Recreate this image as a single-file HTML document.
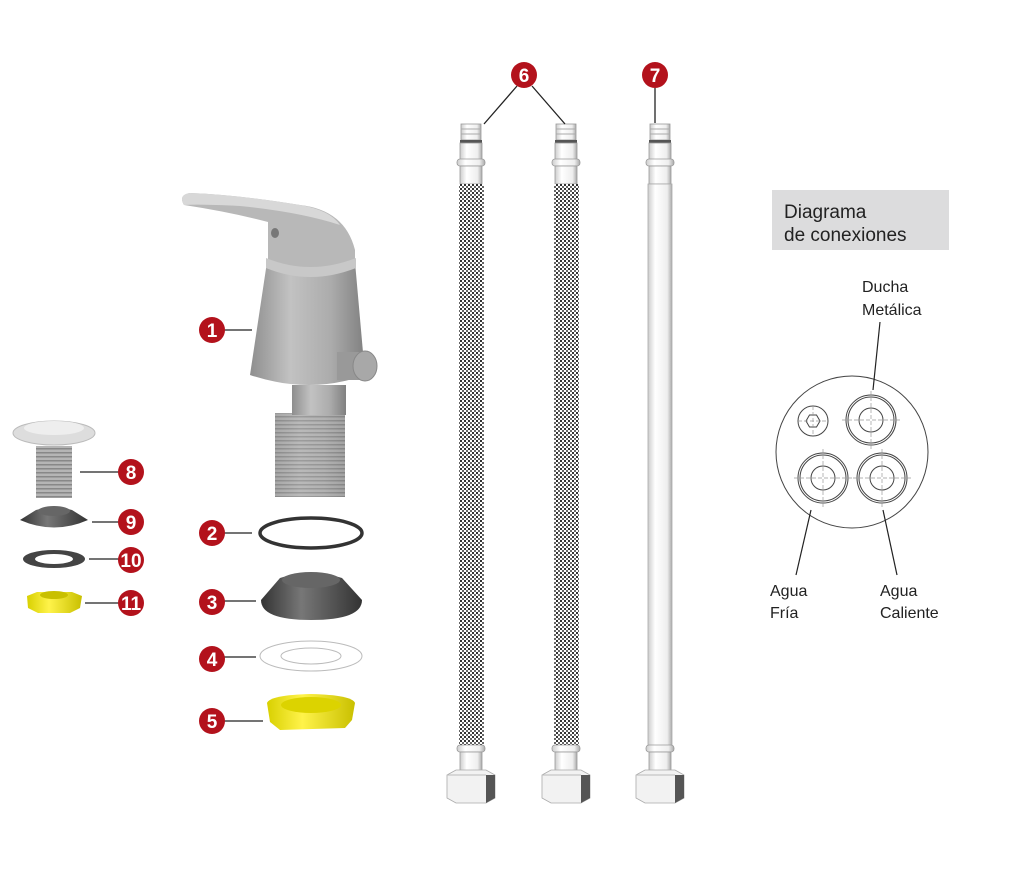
<!DOCTYPE html>
<html><head><meta charset="utf-8"><style>
html,body{margin:0;padding:0;background:#fff;}
svg{display:block;}
text{font-family:"Liberation Sans",sans-serif;}
.b{fill:#fff;font-weight:bold;font-size:19px;text-anchor:middle;}
</style></head><body>
<svg width="1024" height="877" viewBox="0 0 1024 877" xmlns="http://www.w3.org/2000/svg">
<defs>
<pattern id="br" width="4" height="4" patternUnits="userSpaceOnUse">
<rect width="4" height="4" fill="#fff"/><rect width="2" height="2" fill="#333"/><rect x="2" y="2" width="2" height="2" fill="#666"/>
</pattern>
<linearGradient id="cyl" x1="0" x2="1"><stop offset="0" stop-color="#ccc"/><stop offset=".3" stop-color="#fff"/><stop offset=".8" stop-color="#eee"/><stop offset="1" stop-color="#aaa"/></linearGradient>
<linearGradient id="met" x1="0" x2="1"><stop offset="0" stop-color="#8e8e8e"/><stop offset=".35" stop-color="#c2c2c2"/><stop offset=".7" stop-color="#acacac"/><stop offset="1" stop-color="#808080"/></linearGradient>
<linearGradient id="yel" x1="0" x2="1"><stop offset="0" stop-color="#d8d000"/><stop offset=".4" stop-color="#fff34a"/><stop offset="1" stop-color="#c9c000"/></linearGradient>
<linearGradient id="drk" x1="0" x2="1"><stop offset="0" stop-color="#333"/><stop offset=".4" stop-color="#777"/><stop offset="1" stop-color="#333"/></linearGradient>
<pattern id="thr" width="4" height="4" patternUnits="userSpaceOnUse"><rect width="4" height="4" fill="#b5b5b5"/><rect width="4" height="1.5" fill="#888"/></pattern>
<g id="htop">
<rect x="-10" y="0" width="20" height="16" fill="url(#cyl)" stroke="#999" stroke-width=".8"/>
<line x1="-10" y1="5" x2="10" y2="5" stroke="#aaa"/><line x1="-10" y1="10" x2="10" y2="10" stroke="#aaa"/>
<rect x="-11" y="16" width="22" height="3" fill="#555"/>
<rect x="-11" y="19" width="22" height="17" fill="url(#cyl)" stroke="#999" stroke-width=".8"/>
<rect x="-14" y="35" width="28" height="7" rx="3" fill="url(#cyl)" stroke="#999" stroke-width=".8"/>
<rect x="-11" y="42" width="22" height="18" fill="url(#cyl)" stroke="#999" stroke-width=".8"/>
</g>
<g id="hbot">
<rect x="-14" y="0" width="28" height="7" rx="3" fill="url(#cyl)" stroke="#999" stroke-width=".8"/>
<rect x="-11" y="7" width="22" height="20" fill="url(#cyl)" stroke="#999" stroke-width=".8"/>
<path d="M-24 30 L-15 25 L15 25 L24 30 L24 53 L15 58 L-15 58 L-24 53 Z" fill="#f2f2f2" stroke="#aaa" stroke-width=".8"/>
<path d="M15 30 L24 30 L24 53 L15 58 Z" fill="#555"/>
<line x1="-24" y1="30" x2="15" y2="30" stroke="#bbb"/>
</g>
</defs>

<!-- hoses -->
<g transform="translate(471,124)"><use href="#htop"/></g>
<rect x="459" y="184" width="25" height="562" fill="url(#br)"/>
<g transform="translate(471,745)"><use href="#hbot"/></g>

<g transform="translate(566,124)"><use href="#htop"/></g>
<rect x="554" y="184" width="25" height="562" fill="url(#br)"/>
<g transform="translate(566,745)"><use href="#hbot"/></g>

<g transform="translate(660,124)"><use href="#htop"/></g>
<rect x="648" y="184" width="24" height="562" fill="url(#cyl)" stroke="#aaa" stroke-width=".8"/>
<g transform="translate(660,745)"><use href="#hbot"/></g>

<line x1="517" y1="86" x2="484" y2="124" stroke="#222" stroke-width="1.3"/>
<line x1="532" y1="86" x2="565" y2="124" stroke="#222" stroke-width="1.3"/>
<line x1="655" y1="88" x2="655" y2="123" stroke="#222" stroke-width="1.3"/>
<circle cx="524" cy="75" r="13" fill="#b3121c"/><text class="b" x="524" y="82">6</text>
<circle cx="655" cy="75" r="13" fill="#b3121c"/><text class="b" x="655" y="82">7</text>

<!-- faucet -->
<rect x="275" y="413" width="70" height="84" fill="url(#thr)"/>
<rect x="275" y="413" width="70" height="84" fill="url(#met)" opacity=".35"/>
<rect x="292" y="385" width="54" height="30" fill="url(#met)"/>
<path d="M267 262 L355 262 L365 375 Q310 395 250 375 Z" fill="url(#met)"/>
<path d="M268 262 Q310 282 355 262 L355 250 Q345 210 300 205 Q240 195 190 193 Q178 195 184 205 Q230 212 268 222 Z" fill="#b8b8b8"/>
<path d="M190 193 Q240 195 300 205 Q330 210 340 225 Q300 212 240 206 Q200 204 184 205 Q178 195 190 193Z" fill="#d8d8d8"/>
<path d="M266 258 Q310 276 356 258 L356 268 Q310 286 266 268Z" fill="#c8c8c8"/>
<ellipse cx="275" cy="233" rx="4" ry="5" fill="#777"/>
<rect x="337" y="352" width="25" height="28" fill="#999"/>
<ellipse cx="365" cy="366" rx="12" ry="15" fill="#a8a8a8" stroke="#888"/>
<line x1="222" y1="330" x2="252" y2="330" stroke="#222" stroke-width="1.3"/>
<circle cx="212" cy="330" r="13" fill="#b3121c"/><text class="b" x="212" y="337">1</text>

<!-- part 8 -->
<rect x="36" y="446" width="36" height="52" fill="url(#thr)"/>
<ellipse cx="54" cy="433" rx="41" ry="12" fill="#ddd" stroke="#bbb"/>
<ellipse cx="54" cy="428" rx="30" ry="7" fill="#eee"/>
<line x1="80" y1="472" x2="120" y2="472" stroke="#222" stroke-width="1.3"/>
<circle cx="131" cy="472" r="13" fill="#b3121c"/><text class="b" x="131" y="479">8</text>
<!-- 9 -->
<path d="M20 520 L36 510 Q54 505 72 510 L88 520 Q54 535 20 520Z" fill="url(#drk)"/>
<ellipse cx="54" cy="511" rx="16" ry="5" fill="#666"/>
<line x1="92" y1="522" x2="120" y2="522" stroke="#222" stroke-width="1.3"/>
<circle cx="131" cy="522" r="13" fill="#b3121c"/><text class="b" x="131" y="529">9</text>
<!-- 10 -->
<ellipse cx="54" cy="559" rx="31" ry="9" fill="#444"/>
<ellipse cx="54" cy="559" rx="19" ry="5" fill="#fff"/>
<line x1="89" y1="559" x2="120" y2="559" stroke="#222" stroke-width="1.3"/>
<circle cx="131" cy="560" r="13" fill="#b3121c"/><text class="b" x="131" y="567">10</text>
<!-- 11 -->
<path d="M27 596 L37 592 L72 592 L82 596 L80 608 L70 613 L38 613 L28 608Z" fill="url(#yel)"/>
<ellipse cx="54" cy="595" rx="14" ry="4" fill="#c9c000"/>
<line x1="85" y1="603" x2="120" y2="603" stroke="#222" stroke-width="1.3"/>
<circle cx="131" cy="603" r="13" fill="#b3121c"/><text class="b" x="131" y="610">11</text>

<!-- 2 -->
<ellipse cx="311" cy="533" rx="51" ry="15" fill="none" stroke="#333" stroke-width="3.5"/>
<line x1="222" y1="533" x2="252" y2="533" stroke="#222" stroke-width="1.3"/>
<circle cx="212" cy="533" r="13" fill="#b3121c"/><text class="b" x="212" y="540">2</text>
<!-- 3 -->
<path d="M261 600 L280 578 Q310 568 342 578 L362 600 Q362 620 311 620 Q261 620 261 600Z" fill="url(#drk)"/>
<ellipse cx="311" cy="580" rx="29" ry="8" fill="#666"/>
<line x1="222" y1="601" x2="256" y2="601" stroke="#222" stroke-width="1.3"/>
<circle cx="212" cy="602" r="13" fill="#b3121c"/><text class="b" x="212" y="609">3</text>
<!-- 4 -->
<ellipse cx="311" cy="656" rx="51" ry="15" fill="#fff" stroke="#bbb"/>
<ellipse cx="311" cy="656" rx="30" ry="8" fill="#fff" stroke="#bbb"/>
<line x1="222" y1="657" x2="256" y2="657" stroke="#222" stroke-width="1.3"/>
<circle cx="212" cy="659" r="13" fill="#b3121c"/><text class="b" x="212" y="666">4</text>
<!-- 5 -->
<path d="M267 703 Q270 695 311 694 Q352 695 355 703 L352 720 L345 728 L280 730 L270 722Z" fill="url(#yel)"/>
<ellipse cx="311" cy="705" rx="30" ry="8" fill="#dcd300"/>
<line x1="222" y1="721" x2="263" y2="721" stroke="#222" stroke-width="1.3"/>
<circle cx="212" cy="721" r="13" fill="#b3121c"/><text class="b" x="212" y="728">5</text>

<!-- diagram -->
<rect x="772" y="190" width="177" height="60" fill="#dcdcdd"/>
<text x="784" y="218" font-size="19" fill="#222">Diagrama</text>
<text x="784" y="241" font-size="19" fill="#222">de conexiones</text>
<text x="862" y="292" font-size="16" fill="#222">Ducha</text>
<text x="862" y="315" font-size="16" fill="#222">Metálica</text>
<text x="770" y="596" font-size="16" fill="#222">Agua</text>
<text x="770" y="618" font-size="16" fill="#222">Fría</text>
<text x="880" y="596" font-size="16" fill="#222">Agua</text>
<text x="880" y="618" font-size="16" fill="#222">Caliente</text>
<g fill="none" stroke="#444" stroke-width="1">
<circle cx="852" cy="452" r="76"/>
<circle cx="813" cy="421" r="15"/>
<path d="M806 421 L809.5 415 L816.5 415 L820 421 L816.5 427 L809.5 427Z"/>
<circle cx="871" cy="420" r="25"/><circle cx="871" cy="420" r="23"/><circle cx="871" cy="420" r="12"/>
<circle cx="823" cy="478" r="25"/><circle cx="823" cy="478" r="23"/><circle cx="823" cy="478" r="12"/>
<circle cx="882" cy="478" r="25"/><circle cx="882" cy="478" r="23"/><circle cx="882" cy="478" r="12"/>
</g>
<g stroke="#999" stroke-width=".7" stroke-dasharray="4 2">
<line x1="842" y1="420" x2="900" y2="420"/><line x1="871" y1="391" x2="871" y2="449"/>
<line x1="794" y1="478" x2="852" y2="478"/><line x1="823" y1="449" x2="823" y2="507"/>
<line x1="853" y1="478" x2="911" y2="478"/><line x1="882" y1="449" x2="882" y2="507"/>
<line x1="798" y1="421" x2="828" y2="421"/><line x1="813" y1="406" x2="813" y2="436"/>
</g>
<g stroke="#222" stroke-width="1.2">
<line x1="880" y1="322" x2="873" y2="390"/>
<line x1="811" y1="510" x2="796" y2="575"/>
<line x1="883" y1="510" x2="897" y2="575"/>
</g>
</svg>
</body></html>
